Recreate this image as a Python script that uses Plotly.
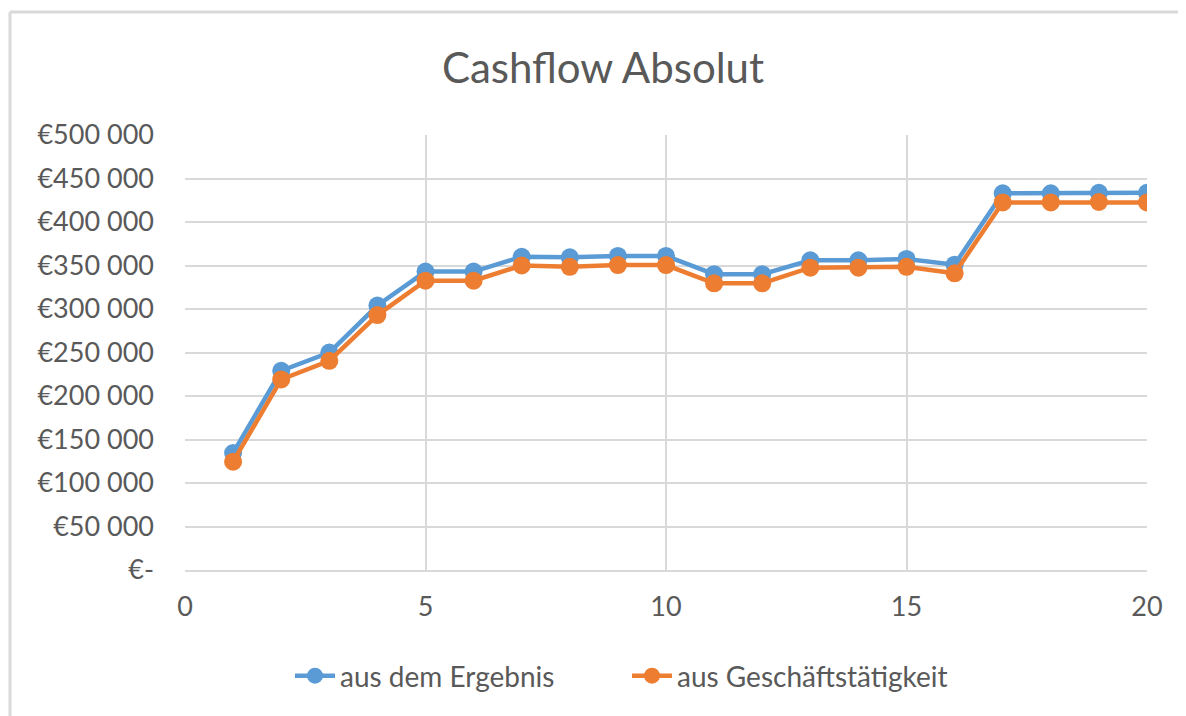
import plotly.graph_objects as go

years = list(range(1, 21))
aus_ergebnis = [134500, 229000, 250000, 304000, 343000, 343000, 360000, 359500, 361000, 361000,
                340000, 340000, 356000, 356000, 357500, 351000, 433000, 433000, 433500, 433500]
aus_geschaeft = [124500, 219000, 240500, 293000, 332500, 332500, 350000, 348500, 350500, 350500,
                 329500, 329500, 347500, 347500, 348500, 341000, 422500, 422500, 423000, 422500]
series_names = ["aus dem Ergebnis", "aus Geschäftstätigkeit"]
y_tickvals = [0, 50000, 100000, 150000, 200000, 250000, 300000, 350000, 400000, 450000, 500000]
y_ticktext = ["€-", "€50 000", "€100 000", "€150 000", "€200 000", "€250 000",
              "€300 000", "€350 000", "€400 000", "€450 000", "€500 000"]
colors = ["#5B9BD5", "#ED7D31"]

FONT = "Lato"
TXT = "#595959"
GRID = "#d9d9d9"

fig = go.Figure()
for name, vals, col in zip(series_names, [aus_ergebnis, aus_geschaeft], colors):
    fig.add_trace(go.Scatter(
        x=years, y=vals, name=name, mode="lines+markers",
        line=dict(color=col, width=4.5),
        marker=dict(color=col, size=18),
    ))

OFF = 8  # page body margin
W, H = 1186 - OFF, 716 - OFF
L, T = 185 - OFF, 135 - OFF
R = W - (1147 - OFF)
B = H - (570 - OFF)
pw, ph = W - L - R, H - T - B

def px(x):
    return (x - OFF - L) / pw

def py(y):
    return (H - B - (y - OFF)) / ph

fig.update_layout(
    width=W, height=H,
    margin=dict(l=L, r=R, t=T, b=B),
    paper_bgcolor="white", plot_bgcolor="white",
    font=dict(family=FONT, color=TXT, size=27),
    title=dict(text="Cashflow Absolut", x=(603 - OFF) / W, xref="container", xanchor="center",
               y=1 - (68 - OFF) / H, yref="container", yanchor="middle",
               font=dict(family=FONT, size=42, color=TXT)),
    xaxis=dict(range=[0, 20], tickvals=[0, 5, 10, 15, 20], showgrid=True,
               gridcolor=GRID, gridwidth=2, zeroline=False,
               showline=True, linecolor=GRID, linewidth=2,
               ticks="", ticklabelstandoff=12, tickfont=dict(size=27, color=TXT)),
    yaxis=dict(range=[0, 500000], tickvals=y_tickvals, ticktext=y_ticktext,
               showgrid=True, gridcolor=GRID, gridwidth=2, zeroline=False,
               showline=False, ticks="", ticklabelstandoff=30,
               tickfont=dict(size=27, color=TXT)),
    legend=dict(orientation="h", x=px(290), xanchor="left", y=py(676), yanchor="middle",
                font=dict(size=28, color=TXT), itemwidth=40, entrywidth=282,
                entrywidthmode="pixels", bgcolor="rgba(0,0,0,0)"),
    showlegend=True,
    shapes=[
        dict(type="line", xref="paper", yref="paper", x0=px(10), x1=px(10), y0=py(12), y1=py(716),
             line=dict(color=GRID, width=3)),
        dict(type="line", xref="paper", yref="paper", x0=px(10), x1=px(1186), y0=py(12), y1=py(12),
             line=dict(color=GRID, width=3)),
    ],
)

fig.write_html("out.html")
